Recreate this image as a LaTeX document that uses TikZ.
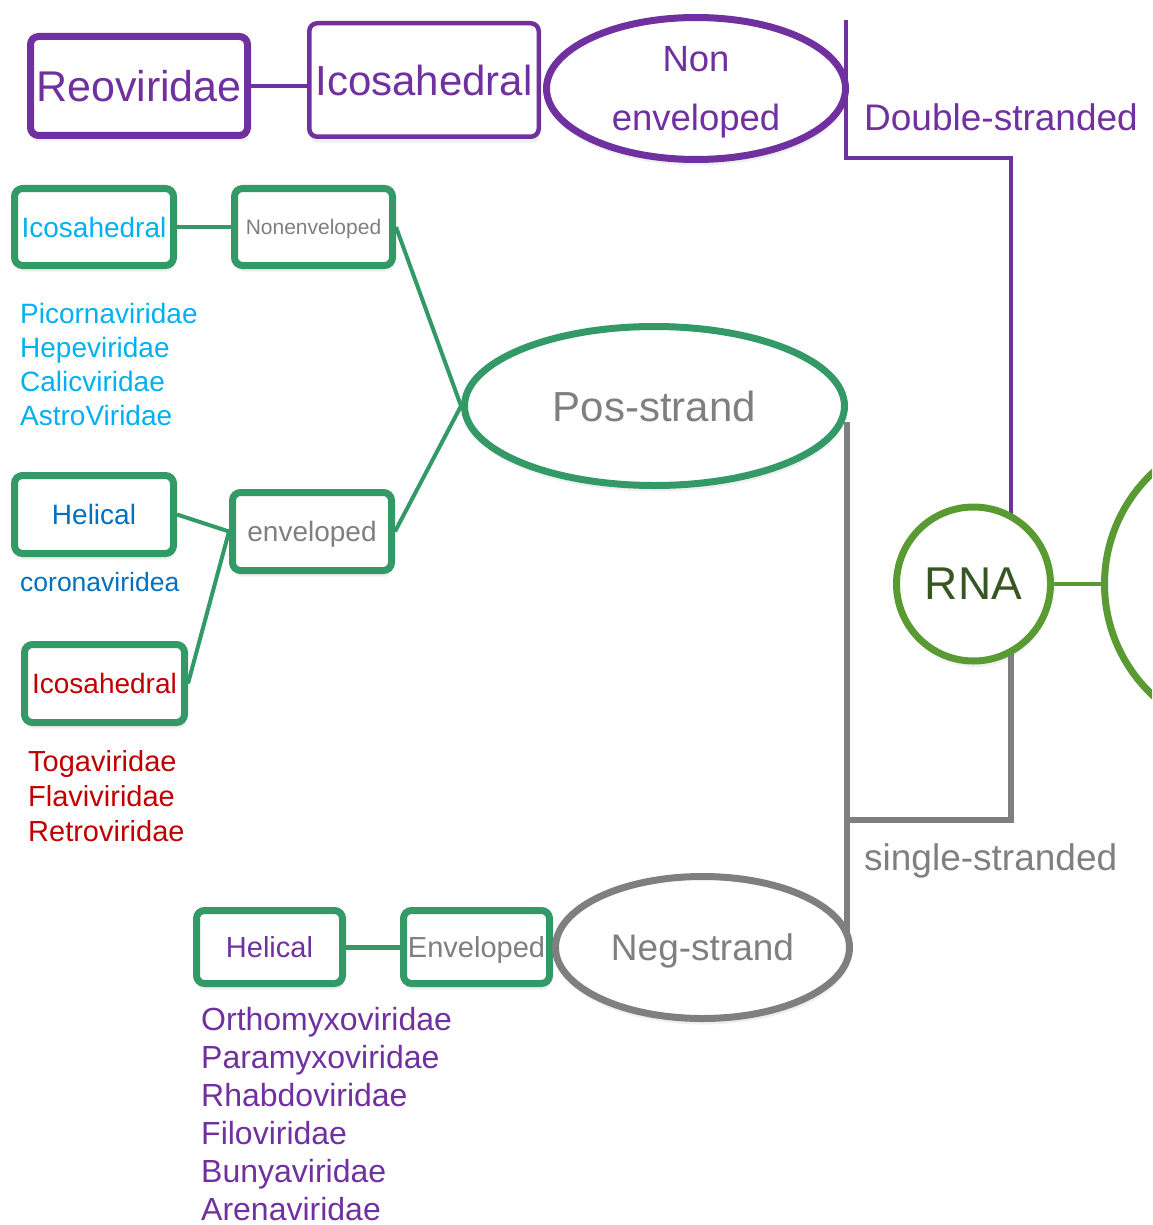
\documentclass[tikz,border=0pt]{standalone}
\usepackage{fontspec}
\setmainfont{Liberation Sans}
\usetikzlibrary{shapes.geometric,shadows,calc}
\definecolor{vpurple}{HTML}{7030A0}
\definecolor{vgreen}{HTML}{339966}
\definecolor{rnagreen}{HTML}{5A9A32}
\definecolor{rnatext}{HTML}{375623}
\definecolor{vgrey}{HTML}{7F7F7F}
\definecolor{vcyan}{HTML}{00B0F0}
\definecolor{vblue}{HTML}{0070C0}
\definecolor{vred}{HTML}{C00000}
\pgfdeclarelayer{bg}
\pgfsetlayers{bg,main}
\tikzset{
  softshadow/.style={drop shadow={opacity=0.13, shadow xshift=1pt, shadow yshift=-6pt}},
  pbox/.style={draw=vpurple, rounded corners=8pt, fill=white, inner sep=0pt,
    text depth=0pt, text=vpurple, font=\fontsize{42}{50}\selectfont, softshadow},
  gbox/.style={draw=vgreen, line width=7pt, rounded corners=8pt, fill=white,
    minimum width=159pt, minimum height=77pt, inner sep=0pt, text depth=0pt,
    font=\fontsize{28}{34}\selectfont, softshadow},
  oval/.style={ellipse, fill=white, inner sep=0pt, text depth=0pt, line width=7pt, softshadow},
  conn/.style={line width=4pt},
  gline/.style={line width=6pt, draw=vgrey},
  lst/.style={anchor=base west, inner sep=0pt},
}
\begin{document}
\begin{tikzpicture}[x=1pt,y=-1pt]
\useasboundingbox (0,0) rectangle (1152,1225);
\clip (0,0) rectangle (1152,1225);

% dsRNA branch
\node[pbox, line width=7pt, minimum width=217pt, minimum height=99pt, font=\fontsize{43}{50}\selectfont] (reo) at (139,86) {Reoviridae};
\node[pbox, line width=4.5pt, minimum width=229.5pt, minimum height=113.5pt] (icosP) at (424,80) {Icosahedral};
\node[oval, draw=vpurple, minimum width=299pt, minimum height=142pt, align=center,
  text=vpurple, font=\fontsize{36.5}{59}\selectfont] (nonenv) at (696,88.5) {Non\\enveloped};
\node[text=vpurple, font=\fontsize{37}{43}\selectfont, lst] (dsl) at (864,131) {Double-stranded};

% positive strand
\node[gbox, text=vcyan] (icosC) at (94,227) {Icosahedral};
\node[gbox, minimum width=158pt, text=vgrey, font=\fontsize{21}{25}\selectfont] (nonenvG) at (313.5,227) {Nonenveloped};
\foreach \t [count=\i] in {Picornaviridae,Hepeviridae,Calicviridae,AstroViridae}
  \node[lst, text=vcyan, font=\fontsize{28}{34}\selectfont] (cy\i) at (20,289+34*\i) {\t};
\node[gbox, minimum height=78pt, text=vblue] (helB) at (94,514.5) {Helical};
\node[lst, text=vblue, font=\fontsize{26.5}{31}\selectfont] (corona) at (20,591) {coronaviridea};
\node[gbox, minimum height=78pt, text=vgrey] (envG) at (312,531.5) {enveloped};
\node[gbox, minimum width=160pt, minimum height=78pt, text=vred] (icosR) at (104.5,683.5) {Icosahedral};
\foreach \t [count=\i] in {Togaviridae,Flaviviridae,Retroviridae}
  \node[lst, text=vred, font=\fontsize{29}{35}\selectfont] (rd\i) at (28,736+35*\i) {\t};
\node[oval, draw=vgreen, minimum width=380pt, minimum height=159pt, text=vgrey,
  font=\fontsize{42}{50}\selectfont] (pos) at (654.5,406) {Pos-strand};

% negative strand
\node[gbox, minimum width=146pt, minimum height=73pt, text=vpurple, font=\fontsize{29}{34}\selectfont] (helP) at (269.5,947) {Helical};
\node[gbox, minimum width=146pt, minimum height=73pt, text=vgrey, font=\fontsize{29}{34}\selectfont] (envN) at (476.5,947) {Enveloped};
\node[oval, draw=vgrey, minimum width=294pt, minimum height=142pt, text=vgrey,
  font=\fontsize{37}{44}\selectfont] (neg) at (702.5,947.5) {Neg-strand};
\foreach \t [count=\i] in {Orthomyxoviridae,Paramyxoviridae,Rhabdoviridae,Filoviridae,Bunyaviridae,Arenaviridae}
  \node[lst, text=vpurple, font=\fontsize{32}{38}\selectfont] (pu\i) at (201,992+38*\i) {\t};
\node[text=vgrey, font=\fontsize{37}{44}\selectfont, lst] (ssl) at (864,870) {single-stranded};

% RNA
\node[circle, draw=rnagreen, line width=7pt, fill=white, minimum size=154pt, inner sep=0pt,
  text=rnatext, text depth=0pt, font=\fontsize{46}{55}\selectfont, softshadow] (rna) at (973.5,584) {RNA};
\node[circle, draw=rnagreen, line width=7pt, fill=white, minimum size=305pt, softshadow] (big) at (1257,584) {};

\coordinate (dsTop) at (846,20);
\coordinate (dsCorner) at (1011,158);
\coordinate (ssCorner) at (1011,820);
\coordinate (ssJ) at (847,820);
\coordinate (posTap) at (847,422);

\begin{pgfonlayer}{bg}
\draw[conn, vpurple] (reo.east) -- (reo.east -| icosP.west);
\draw[conn, vgreen] (icosC) -- (nonenvG);
\draw[conn, vgreen] (nonenvG.east) -- (pos.west);
\draw[conn, vgreen] (helB.east) -- (envG.west);
\draw[conn, vgreen] (icosR.east) -- (envG.west);
\draw[conn, vgreen] (envG.east) -- (pos.west);
\draw[conn, vgreen, line width=5pt] (helP) -- (envN);
\draw[conn, rnagreen] (rna) -- (big);
\draw[conn, vpurple] (dsTop) |- (dsCorner) -- (dsCorner |- rna.center);
\draw[gline] (ssCorner |- rna.center) -- (ssCorner) -- (ssJ);
\draw[gline] (posTap) -- (ssJ |- neg.center);
\end{pgfonlayer}
\end{tikzpicture}
\end{document}
